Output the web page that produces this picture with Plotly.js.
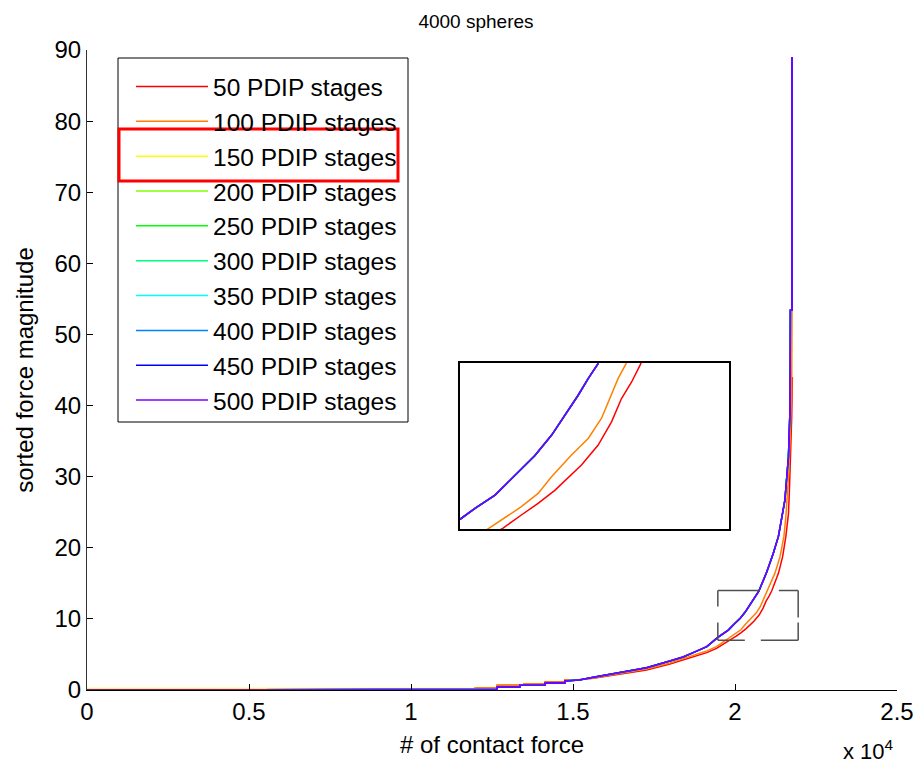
<!DOCTYPE html>
<html>
<head>
<meta charset="utf-8">
<script src="https://cdn.plot.ly/plotly-3.0.1.min.js"></script>
<style>html,body{margin:0;padding:0;background:#fff;}</style>
</head>
<body>
<div id="chart" style="width:914px;height:770px;"></div>
<script>
// ---------- data ----------
const seriesNames = ['50 PDIP stages','100 PDIP stages','150 PDIP stages','200 PDIP stages','250 PDIP stages',
                     '300 PDIP stages','350 PDIP stages','400 PDIP stages','450 PDIP stages','500 PDIP stages'];

const xTickVals = [0, 5000, 10000, 15000, 20000, 25000];
const xTickText = ['0', '0.5', '1', '1.5', '2', '2.5'];
const yTickVals = [0, 10, 20, 30, 40, 50, 60, 70, 80, 90];

// 50 PDIP stages
const redIdx = [1, 11980, 11980, 12660, 12660, 13490, 13490, 14140, 14140, 14750,
                14750, 15190, 15630, 16660, 17270, 17990, 18710, 19130, 19430, 19864,
                20036, 20190, 20344, 20590, 20744, 20867, 20959, 21052, 21135, 21340,
                21470, 21570, 21650, 21680, 21720, 21750, 21770];
const redVal = [0, 0, 0.33, 0.33, 0.66, 0.66, 0.89, 0.89, 1.12, 1.12,
                1.4, 1.45, 1.64, 2.34, 2.81, 3.66, 4.69, 5.25, 5.86, 7.03,
                7.59, 8.08, 8.63, 9.7, 10.54, 11.52, 12.5, 13.2, 13.95, 16.4,
                18.75, 21.6, 24.8, 28.1, 32.8, 38.4, 44];

// 100 PDIP stages
const orangeIdx = [1, 11980, 11980, 12660, 12660, 13490, 13490, 14140, 14140, 14750,
                   14750, 15190, 15630, 16660, 17270, 17990, 18710, 19130, 19430, 19738,
                   19882, 20036, 20190, 20314, 20498, 20652, 20775, 20867, 20928, 20999,
                   21230, 21390, 21510, 21570, 21620, 21650, 21700, 21750, 21760];
const orangeVal = [0, 0, 0.33, 0.33, 0.66, 0.66, 0.89, 0.89, 1.12, 1.12,
                   1.4, 1.45, 1.7, 2.45, 2.95, 3.8, 4.85, 5.5, 6.1, 7.03,
                   7.45, 7.94, 8.5, 9.2, 10.12, 10.82, 11.67, 12.65, 13.35, 13.95,
                   16.4, 18.75, 21.6, 24.4, 27.2, 30, 35.2, 42.2, 53.4];

// 150 PDIP stages: small offset before the rise, then hidden under the others
const yellowIdx = [1, 11980, 11980, 12660, 12660, 13360, 13360, 14140, 14140, 14750,
                   14750, 15190, 15630, 16660, 17270, 17990, 18400, 18710, 19130, 19470,
                   19608, 19793, 19977, 20161, 20315, 20438, 20561, 20653, 20740, 20980,
                   21080, 21180, 21340, 21440, 21540, 21590, 21650, 21700, 21710, 21760, 21760];
const yellowVal = [0.22, 0.22, 0.1, 0.1, 0.42, 0.42, 0.66, 0.66, 0.98, 0.98,
                   1.27, 1.4, 1.78, 2.67, 3.14, 4.08, 4.65, 5.25, 6.09, 7.41,
                   7.87, 8.43, 9.28, 10.1, 10.96, 11.8, 12.65, 13.35, 13.95, 16.6,
                   17.8, 19.2, 21.6, 24.4, 26.7, 29.5, 32.8, 39.8, 53.4, 53.4, 89];

// 200 ... 500 PDIP stages (overlapping, visible as the blue / violet curve)
const violetIdx = [1, 11980, 11980, 12660, 12660, 13360, 13360, 14140, 14140, 14750,
                   14750, 15190, 15630, 16660, 17270, 17990, 18400, 18710, 19130, 19470,
                   19608, 19793, 19977, 20161, 20315, 20438, 20561, 20653, 20740, 20980,
                   21080, 21180, 21340, 21440, 21540, 21590, 21650, 21700, 21710, 21760, 21760];
const violetVal = [0, 0, 0.1, 0.1, 0.42, 0.42, 0.66, 0.66, 0.98, 0.98,
                   1.27, 1.4, 1.78, 2.67, 3.14, 4.08, 4.65, 5.25, 6.09, 7.41,
                   7.87, 8.43, 9.28, 10.1, 10.96, 11.8, 12.65, 13.35, 13.95, 16.6,
                   17.8, 19.2, 21.6, 24.4, 26.7, 29.5, 32.8, 39.8, 53.4, 53.4, 89];

// zoom window (dashed box) and its magnified view
const zoomX = [19470, 21950];
const zoomY = [7, 14];

// ---------- styling ----------
const seriesColors = ['#ff0000','#ff8000','#ffff00','#80ff00','#00ff00',
                      '#00ff80','#00ffff','#0080ff','#0000ff','#8000ff'];
const seriesX = [redIdx, orangeIdx, yellowIdx, violetIdx, violetIdx, violetIdx, violetIdx, violetIdx, violetIdx, violetIdx];
const seriesY = [redVal, orangeVal, yellowVal, violetVal, violetVal, violetVal, violetVal, violetVal, violetVal, violetVal];

const traces = [];
seriesNames.forEach((name, i) => {
  traces.push({
    type: 'scatter', mode: 'lines', name: name,
    x: seriesX[i], y: seriesY[i],
    line: {color: seriesColors[i], width: 1.5},
    xaxis: 'x', yaxis: 'y', hoverinfo: 'skip'
  });
});
seriesNames.forEach((name, i) => {
  traces.push({
    type: 'scatter', mode: 'lines', name: name, showlegend: false,
    x: seriesX[i], y: seriesY[i],
    line: {color: seriesColors[i], width: 1.5},
    xaxis: 'x2', yaxis: 'y2', hoverinfo: 'skip'
  });
});

const W = 914, H = 770;
const L = 87, R = 897, T = 50, B = 690;
const px = v => (v - L) / (R - L);
const py = v => (B - v) / (B - T);

const fontFam = '"Liberation Sans", Arial, Helvetica, sans-serif';
const boxLine = {color: '#505050', width: 1.5};

const layout = {
  width: W, height: H,
  margin: {l: L, r: W - R, t: T, b: H - B, pad: 0},
  paper_bgcolor: '#ffffff', plot_bgcolor: '#ffffff',
  font: {family: fontFam, size: 24, color: '#000'},
  showlegend: true,
  title: {text: '4000 spheres', font: {size: 19, color: '#000'},
          xref: 'container', x: 476 / W, xanchor: 'center',
          yref: 'container', y: 1 - 21 / H, yanchor: 'middle'},
  xaxis: {
    range: [0, 25000], tickvals: xTickVals, ticktext: xTickText,
    ticks: 'inside', ticklen: 6, tickwidth: 1, tickcolor: '#000',
    showline: true, linecolor: '#000', linewidth: 1, mirror: false,
    showgrid: false, zeroline: false, automargin: false,
    tickfont: {size: 24},
    title: {text: '# of contact force', font: {size: 24}, standoff: 12}
  },
  yaxis: {
    range: [0, 90], tickvals: yTickVals,
    ticks: 'inside', ticklen: 6, tickwidth: 1, tickcolor: '#000',
    showline: true, linecolor: '#333', linewidth: 1, mirror: false,
    showgrid: false, zeroline: false, automargin: false,
    tickfont: {size: 24},
    title: {text: 'sorted force magnitude', font: {size: 24}, standoff: 14}
  },
  xaxis2: {
    domain: [px(460), px(729)], anchor: 'y2', range: zoomX,
    showticklabels: false, ticks: '', showgrid: false, zeroline: false,
    showline: true, mirror: true, linecolor: '#000', linewidth: 2
  },
  yaxis2: {
    domain: [py(529), py(363)], anchor: 'x2', range: zoomY,
    showticklabels: false, ticks: '', showgrid: false, zeroline: false,
    showline: true, mirror: true, linecolor: '#000', linewidth: 2
  },
  legend: {
    x: px(131), y: py(64), xanchor: 'left', yanchor: 'top',
    xref: 'paper', yref: 'paper',
    bgcolor: 'rgba(255,255,255,0)', borderwidth: 0,
    font: {size: 24.5, color: '#000'}, itemwidth: 72, tracegroupgap: 0
  },
  shapes: [
    // legend frame
    {type: 'rect', xref: 'paper', yref: 'paper', x0: px(118), x1: px(408), y0: py(422), y1: py(58),
     line: {color: '#000', width: 1}, fillcolor: 'rgba(0,0,0,0)', layer: 'below'},
    // dashed zoom window, edge by edge
    {type: 'line', xref: 'x', yref: 'y', x0: zoomX[0], x1: zoomX[1], y0: zoomY[0], y1: zoomY[0],
     line: Object.assign({dash: '27px,16px,300px'}, boxLine)},
    {type: 'line', xref: 'x', yref: 'y', x0: zoomX[0], x1: zoomX[1], y0: zoomY[1], y1: zoomY[1],
     line: Object.assign({dash: '42px,19px,300px'}, boxLine)},
    {type: 'line', xref: 'x', yref: 'y', x0: zoomX[0], x1: zoomX[0], y0: zoomY[1], y1: zoomY[0],
     line: Object.assign({dash: '16px,16px,300px'}, boxLine)},
    {type: 'line', xref: 'x', yref: 'y', x0: zoomX[1], x1: zoomX[1], y0: zoomY[1], y1: zoomY[0],
     line: Object.assign({dash: '27px,5px,300px'}, boxLine)},
    // red highlight round the 150-stage entry
    {type: 'rect', xref: 'paper', yref: 'paper', x0: px(119), x1: px(398), y0: py(181), y1: py(129),
     line: {color: '#ff0000', width: 3}, fillcolor: 'rgba(0,0,0,0)'}
  ],
  annotations: [
    {text: 'x 10<sup>4</sup>', xref: 'paper', yref: 'paper', x: px(868), y: py(750),
     xanchor: 'center', yanchor: 'middle', showarrow: false, font: {size: 22, color: '#000'}}
  ]
};

Plotly.newPlot('chart', traces, layout, {displayModeBar: false, staticPlot: true});
</script>
</body>
</html>
